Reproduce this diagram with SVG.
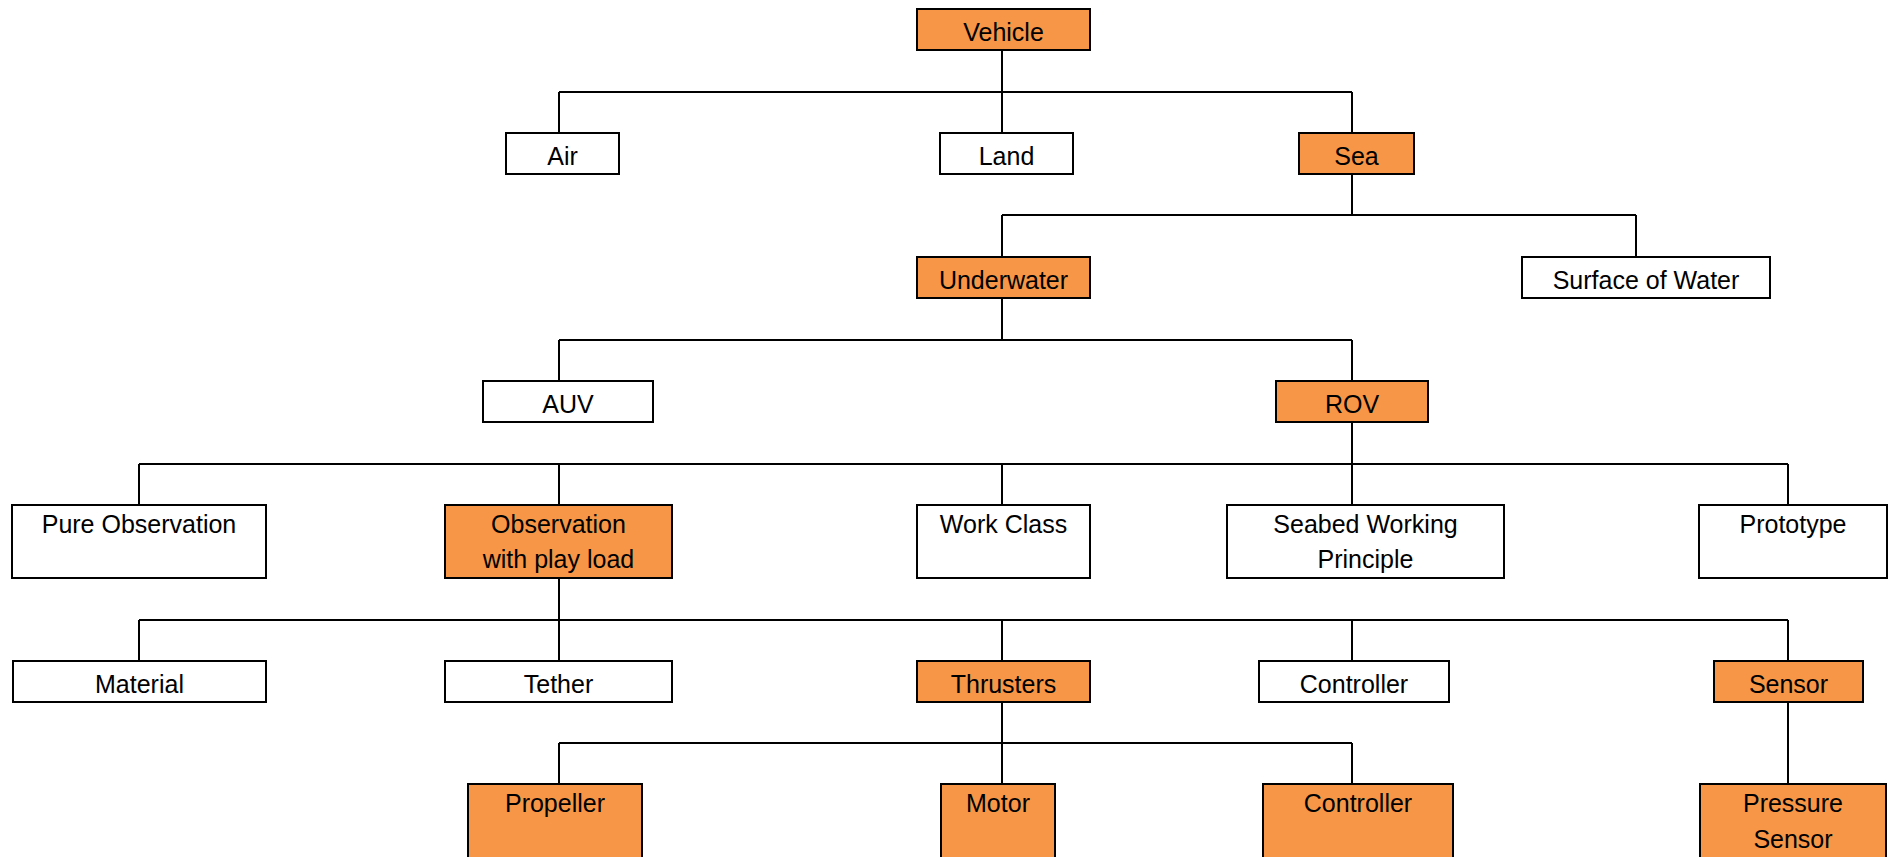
<svg xmlns="http://www.w3.org/2000/svg" width="1892" height="857" viewBox="0 0 1892 857">
<style>
.b{fill:#ffffff;stroke:#000;stroke-width:2}
.o{fill:#F79646;stroke:#000;stroke-width:2}
text{font-family:"Liberation Sans",Arial,sans-serif;font-size:25px;fill:#000;text-anchor:middle}
.c{stroke:#000;stroke-width:2;fill:none}
</style>
<rect width="1892" height="857" fill="#fff"/>
<g id="connectors" class="c">
<path d="M1002 50V133M559 92H1352M559 92V133M1352 92V133"/>
<path d="M1352 174V215M1002 215H1636M1002 215V257M1636 215V257"/>
<path d="M1002 298V340M559 340H1352M559 340V381M1352 340V381"/>
<path d="M1352 422V505M139 464H1788M139 464V505M559 464V505M1002 464V505M1788 464V505"/>
<path d="M559 578V661M139 620H1788M139 620V661M1002 620V661M1352 620V661M1788 620V661"/>
<path d="M1002 702V784M559 743H1352M559 743V784M1352 743V784"/>
<path d="M1788 702V784"/>
</g>
<g id="vehicle"><rect class="o" x="917" y="9" width="173" height="41"/><text x="1003.5" y="41">Vehicle</text></g>
<g id="air"><rect class="b" x="506" y="133" width="113" height="41"/><text x="562.5" y="165">Air</text></g>
<g id="land"><rect class="b" x="940" y="133" width="133" height="41"/><text x="1006.5" y="165">Land</text></g>
<g id="sea"><rect class="o" x="1299" y="133" width="115" height="41"/><text x="1356.5" y="165">Sea</text></g>
<g id="underwater"><rect class="o" x="917" y="257" width="173" height="41"/><text x="1003.5" y="289">Underwater</text></g>
<g id="surface"><rect class="b" x="1522" y="257" width="248" height="41"/><text x="1646" y="289">Surface of Water</text></g>
<g id="auv"><rect class="b" x="483" y="381" width="170" height="41"/><text x="568" y="413">AUV</text></g>
<g id="rov"><rect class="o" x="1276" y="381" width="152" height="41"/><text x="1352" y="413">ROV</text></g>
<g id="pure"><rect class="b" x="12" y="505" width="254" height="73"/><text x="139" y="533">Pure Observation</text></g>
<g id="obs"><rect class="o" x="445" y="505" width="227" height="73"/><text x="558.5" y="533">Observation</text><text x="558.5" y="568">with play load</text></g>
<g id="work"><rect class="b" x="917" y="505" width="173" height="73"/><text x="1003.5" y="533">Work Class</text></g>
<g id="seabed"><rect class="b" x="1227" y="505" width="277" height="73"/><text x="1365.5" y="533">Seabed Working</text><text x="1365.5" y="568">Principle</text></g>
<g id="prototype"><rect class="b" x="1699" y="505" width="188" height="73"/><text x="1793" y="533">Prototype</text></g>
<g id="material"><rect class="b" x="13" y="661" width="253" height="41"/><text x="139.5" y="693">Material</text></g>
<g id="tether"><rect class="b" x="445" y="661" width="227" height="41"/><text x="558.5" y="693">Tether</text></g>
<g id="thrusters"><rect class="o" x="917" y="661" width="173" height="41"/><text x="1003.5" y="693">Thrusters</text></g>
<g id="controller1"><rect class="b" x="1259" y="661" width="190" height="41"/><text x="1354" y="693">Controller</text></g>
<g id="sensor"><rect class="o" x="1714" y="661" width="149" height="41"/><text x="1788.5" y="693">Sensor</text></g>
<g id="propeller"><rect class="o" x="468" y="784" width="174" height="80"/><text x="555" y="812">Propeller</text></g>
<g id="motor"><rect class="o" x="941" y="784" width="114" height="80"/><text x="998" y="812">Motor</text></g>
<g id="controller2"><rect class="o" x="1263" y="784" width="190" height="80"/><text x="1358" y="812">Controller</text></g>
<g id="pressure"><rect class="o" x="1700" y="784" width="186" height="80"/><text x="1793" y="812">Pressure</text><text x="1793" y="848">Sensor</text></g>
</svg>
